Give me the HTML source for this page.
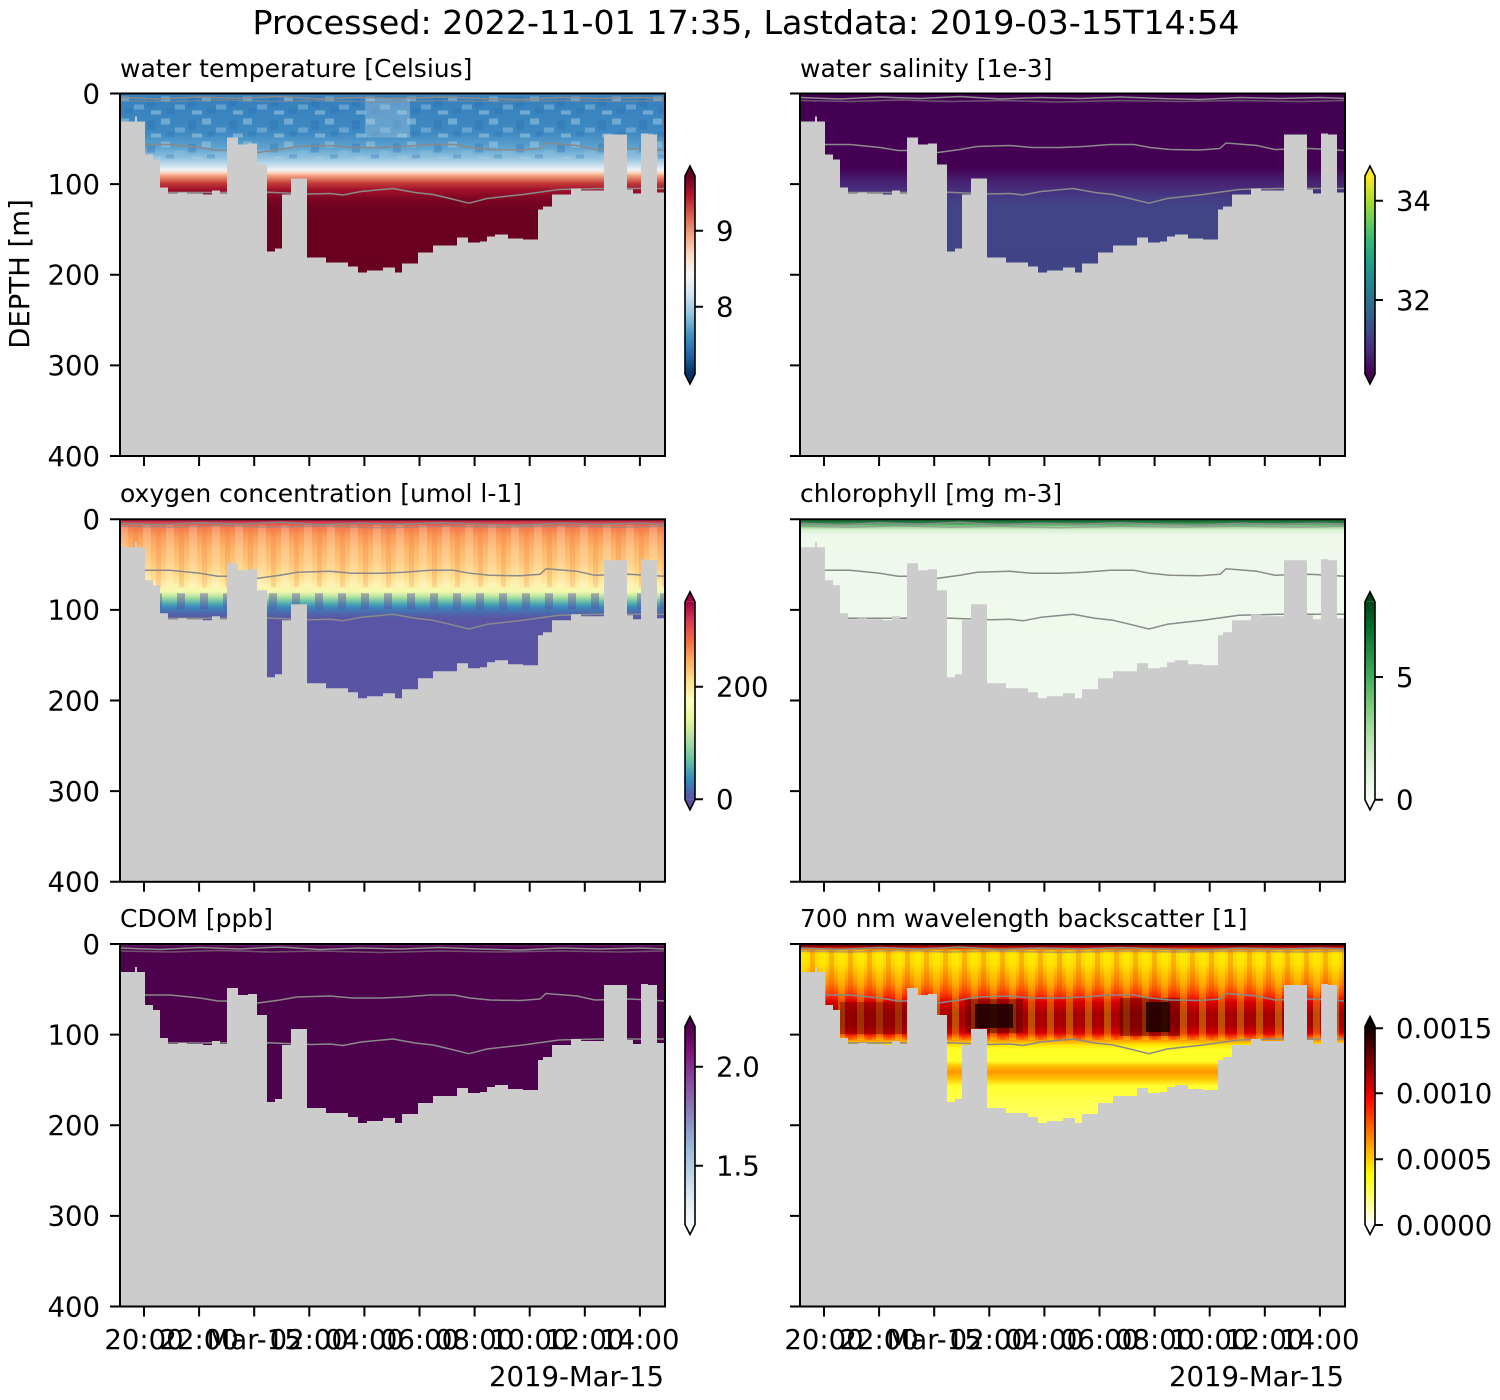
<!DOCTYPE html>
<html><head><meta charset="utf-8"><style>
html,body{margin:0;padding:0;background:#fff;}
svg{display:block;}
text{font-family:"DejaVu Sans","Liberation Sans",sans-serif;fill:#000;}
.tk{font-size:27.5px;}
.st{font-size:25px;}
</style></head><body>
<svg width="1500" height="1400" viewBox="0 0 1500 1400" xmlns="http://www.w3.org/2000/svg">
<defs>
<clipPath id="ax" clipPathUnits="userSpaceOnUse"><rect x="0" y="0" width="545" height="362.5"/></clipPath>
<linearGradient id="gT" gradientUnits="userSpaceOnUse" x1="0" y1="0" x2="0" y2="362.5">
<stop offset="0" stop-color="#4f95c7"/><stop offset=".008" stop-color="#3580bd"/><stop offset=".11" stop-color="#3f8ac2"/>
<stop offset=".152" stop-color="#62a5d0"/><stop offset=".179" stop-color="#94c4df"/><stop offset=".199" stop-color="#c9e0ee"/>
<stop offset=".21" stop-color="#eef2f5"/><stop offset=".218" stop-color="#fbd9c6"/><stop offset=".226" stop-color="#f4a582"/>
<stop offset=".237" stop-color="#dc6e58"/><stop offset=".248" stop-color="#c13a3a"/><stop offset=".265" stop-color="#a11229"/>
<stop offset=".29" stop-color="#7e0623"/><stop offset=".326" stop-color="#6a0120"/><stop offset="1" stop-color="#67001f"/>
</linearGradient>
<linearGradient id="gS" gradientUnits="userSpaceOnUse" x1="0" y1="0" x2="0" y2="362.5">
<stop offset="0" stop-color="#440154"/><stop offset=".207" stop-color="#440154"/><stop offset=".234" stop-color="#461a6b"/>
<stop offset=".262" stop-color="#472c7a"/><stop offset=".29" stop-color="#433d85"/><stop offset=".317" stop-color="#414487"/>
<stop offset="1" stop-color="#3f4788"/>
</linearGradient>
<linearGradient id="gO" gradientUnits="userSpaceOnUse" x1="0" y1="0" x2="0" y2="362.5">
<stop offset="0" stop-color="#a8174a"/><stop offset=".011" stop-color="#dc4a4a"/><stop offset=".022" stop-color="#f47a4a"/>
<stop offset=".044" stop-color="#fa9a58"/><stop offset=".077" stop-color="#fdb466"/><stop offset=".124" stop-color="#fec979"/>
<stop offset=".16" stop-color="#fee08f"/><stop offset=".182" stop-color="#fff0a6"/><stop offset=".199" stop-color="#f3f9b0"/>
<stop offset=".21" stop-color="#c8e9a0"/><stop offset=".221" stop-color="#88d0a4"/><stop offset=".232" stop-color="#52acb0"/>
<stop offset=".243" stop-color="#3a87bb"/><stop offset=".257" stop-color="#4c6bae"/><stop offset=".273" stop-color="#5a55a4"/>
<stop offset="1" stop-color="#5b51a3"/>
</linearGradient>
<linearGradient id="gC" gradientUnits="userSpaceOnUse" x1="0" y1="0" x2="0" y2="362.5">
<stop offset="0" stop-color="#2a8a48"/><stop offset=".007" stop-color="#1d6f38"/><stop offset=".014" stop-color="#4daf62"/>
<stop offset=".022" stop-color="#a8dca2"/><stop offset=".03" stop-color="#dcf0d6"/><stop offset=".044" stop-color="#eef8eb"/>
<stop offset="1" stop-color="#f3fbf1"/>
</linearGradient>
<linearGradient id="gD" gradientUnits="userSpaceOnUse" x1="0" y1="0" x2="0" y2="362.5">
<stop offset="0" stop-color="#6b2a70"/><stop offset=".01" stop-color="#4d004b"/><stop offset="1" stop-color="#4d004b"/>
</linearGradient>
<linearGradient id="gB" gradientUnits="userSpaceOnUse" x1="0" y1="0" x2="0" y2="362.5">
<stop offset="0" stop-color="#3a0000"/><stop offset=".008" stop-color="#b00000"/><stop offset=".017" stop-color="#ffa000"/>
<stop offset=".028" stop-color="#ffe000"/><stop offset=".055" stop-color="#ffd800"/><stop offset=".083" stop-color="#ffb000"/>
<stop offset=".11" stop-color="#ff8800"/><stop offset=".138" stop-color="#ff4000"/><stop offset=".16" stop-color="#d80000"/>
<stop offset=".193" stop-color="#a00000"/><stop offset=".226" stop-color="#a80000"/><stop offset=".246" stop-color="#d80000"/>
<stop offset=".257" stop-color="#ff5000"/><stop offset=".268" stop-color="#ffa800"/><stop offset=".279" stop-color="#ffe800"/>
<stop offset=".292" stop-color="#ffff28"/><stop offset=".323" stop-color="#ffff28"/><stop offset=".337" stop-color="#ffc000"/>
<stop offset=".353" stop-color="#ff9800"/><stop offset=".37" stop-color="#ffc000"/><stop offset=".392" stop-color="#ffff30"/>
<stop offset=".441" stop-color="#ffff50"/><stop offset=".524" stop-color="#ffff70"/><stop offset="1" stop-color="#ffff80"/>
</linearGradient>
<linearGradient id="cT" x1="0" y1="0" x2="0" y2="1">
<stop offset="0" stop-color="#67001f"/><stop offset=".1" stop-color="#b2182b"/><stop offset=".2" stop-color="#d6604d"/>
<stop offset=".3" stop-color="#f4a582"/><stop offset=".4" stop-color="#fddbc7"/><stop offset=".5" stop-color="#f7f7f7"/>
<stop offset=".6" stop-color="#d1e5f0"/><stop offset=".7" stop-color="#92c5de"/><stop offset=".8" stop-color="#4393c3"/>
<stop offset=".9" stop-color="#2166ac"/><stop offset="1" stop-color="#053061"/>
</linearGradient>
<linearGradient id="cS" x1="0" y1="0" x2="0" y2="1">
<stop offset="0" stop-color="#fde725"/><stop offset=".11" stop-color="#b5de2b"/><stop offset=".22" stop-color="#6ece58"/>
<stop offset=".33" stop-color="#35b779"/><stop offset=".44" stop-color="#1f9e89"/><stop offset=".56" stop-color="#26828e"/>
<stop offset=".67" stop-color="#31688e"/><stop offset=".78" stop-color="#3e4989"/><stop offset=".89" stop-color="#482878"/>
<stop offset="1" stop-color="#440154"/>
</linearGradient>
<linearGradient id="cO" x1="0" y1="0" x2="0" y2="1">
<stop offset="0" stop-color="#9e0142"/><stop offset=".1" stop-color="#d53e4f"/><stop offset=".2" stop-color="#f46d43"/>
<stop offset=".3" stop-color="#fdae61"/><stop offset=".4" stop-color="#fee08b"/><stop offset=".5" stop-color="#ffffbf"/>
<stop offset=".6" stop-color="#e6f598"/><stop offset=".7" stop-color="#abdda4"/><stop offset=".8" stop-color="#66c2a5"/>
<stop offset=".9" stop-color="#3288bd"/><stop offset="1" stop-color="#5e4fa2"/>
</linearGradient>
<linearGradient id="cC" x1="0" y1="0" x2="0" y2="1">
<stop offset="0" stop-color="#00441b"/><stop offset=".125" stop-color="#006d2c"/><stop offset=".25" stop-color="#238b45"/>
<stop offset=".375" stop-color="#41ab5d"/><stop offset=".5" stop-color="#74c476"/><stop offset=".625" stop-color="#a1d99b"/>
<stop offset=".75" stop-color="#c7e9c0"/><stop offset=".875" stop-color="#e5f5e0"/><stop offset="1" stop-color="#f7fcf5"/>
</linearGradient>
<linearGradient id="cD" x1="0" y1="0" x2="0" y2="1">
<stop offset="0" stop-color="#4d004b"/><stop offset=".125" stop-color="#810f7c"/><stop offset=".25" stop-color="#88419d"/>
<stop offset=".375" stop-color="#8c6bb1"/><stop offset=".5" stop-color="#8c96c6"/><stop offset=".625" stop-color="#9ebcda"/>
<stop offset=".75" stop-color="#bfd3e6"/><stop offset=".875" stop-color="#e0ecf4"/><stop offset="1" stop-color="#f7fcfd"/>
</linearGradient>
<linearGradient id="cB" x1="0" y1="0" x2="0" y2="1">
<stop offset="0" stop-color="#0b0000"/><stop offset=".2" stop-color="#8c0000"/><stop offset=".365" stop-color="#ff0000"/>
<stop offset=".55" stop-color="#ff8000"/><stop offset=".746" stop-color="#ffff00"/><stop offset=".87" stop-color="#ffff80"/>
<stop offset="1" stop-color="#ffffff"/>
</linearGradient>
<pattern id="tpat" patternUnits="userSpaceOnUse" width="41" height="23">
<rect x="0" y="2" width="9" height="6" fill="#9ac8e1" opacity=".55"/>
<rect x="14" y="11" width="10" height="5" fill="#8cc0de" opacity=".5"/>
<rect x="27" y="4" width="8" height="9" fill="#2166ac" opacity=".3"/>
<rect x="5" y="15" width="8" height="5" fill="#2166ac" opacity=".28"/>
<rect x="31" y="17" width="10" height="4" fill="#a9d0e6" opacity=".5"/>
</pattern>
<pattern id="ostripe" patternUnits="userSpaceOnUse" width="23" height="10">
<rect x="0" y="0" width="8" height="10" fill="#ffffff" opacity=".2"/>
<rect x="13" y="0" width="5" height="10" fill="#f46d43" opacity=".22"/>
</pattern>
<pattern id="obstripe" patternUnits="userSpaceOnUse" width="23" height="10">
<rect x="11" y="0" width="8" height="10" fill="#5e4fa2" opacity=".45"/>
</pattern>
<pattern id="bstripe" patternUnits="userSpaceOnUse" width="19" height="10">
<rect x="0" y="0" width="7" height="10" fill="#ffff00" opacity=".3"/>
<rect x="10" y="0" width="5" height="10" fill="#e00000" opacity=".18"/>
</pattern>
<path id="bathy" fill="#cccccc" d="M0,363 L0,28 H15 V23 H17 V28 H25 V61 H33 V66 H40 V94 H48 V100 H58 V99 H67 V100 H83 V101 H92 V97 H100 V100 H107 V44 H118 V51 H128 V50 H137 V71 H147 V158 H155 V155 H162 V101 H171 V85 H187 V164 H206 V169 H228 V173 H238 V179 H247 V177 H263 V174 H275 V179 H282 V170 H298 V159 H313 V152 H337 V144 H348 V149 H360 V148 H367 V143 H375 V141 H388 V145 H403 V146 H418 V116 H423 V113 H432 V101 H451 V95 H461 V97 H484 V41 H507 V96 H513 V100 H521 V40 H528 V41 H537 V99 H545 V363 Z"/>
<g id="cont" fill="none" stroke="#8a8a8a" stroke-width="1.5" stroke-linejoin="round">
<path d="M0,4 L40,5.5 L80,3.5 L120,5 L160,3 L200,5.5 L240,4 L280,5 L320,3.5 L360,5 L400,6 L440,4 L480,5 L520,4 L545,5"/>
<path d="M0,7 L50,8 L100,6.5 L150,8 L200,7 L260,8.5 L320,7 L380,8 L440,7 L500,8 L545,7" stroke-opacity=".6"/>
<path d="M20,51 L50,51 L80,54 L98,57 L120,57 L138,59 L160,56 L177,53 L210,52 L232,54 L260,54 L284,53 L310,51 L334,51 L350,54 L370,56 L400,56.5 L420,55 L426,49.5 L457,52 L475,56 L510,55 L545,57"/>
<path d="M0,99 L80,99 L148,98.8 L191,100.5 L210,100 L223,101.5 L241,98 L273,95 L295,99 L313,101 L330,105 L349,109.7 L367,105 L403,101 L439,96 L478,95 L545,95"/>
</g>
<path id="yt" stroke="#000" stroke-width="2" d="M-10 0H0M-10 90.625H0M-10 181.25H0M-10 271.875H0M-10 362.5H0"/>
<path id="xt" stroke="#000" stroke-width="2" d="M24 362.5v10M79.1 362.5v10M134.2 362.5v10M189.3 362.5v10M244.4 362.5v10M299.5 362.5v10M354.6 362.5v10M409.7 362.5v10M464.8 362.5v10M519.9 362.5v10"/>
<rect id="frame" x="0" y="0" width="545" height="362.5" fill="none" stroke="#000" stroke-width="2"/>
</defs>

<text x="746" y="34" text-anchor="middle" style="font-size:33.3px">Processed: 2022-11-01 17:35, Lastdata: 2019-03-15T14:54</text>

<text class="st" x="120" y="77">water temperature [Celsius]</text>
<text class="st" x="800" y="77">water salinity [1e-3]</text>
<text class="st" x="120" y="502">oxygen concentration [umol l-1]</text>
<text class="st" x="800" y="502">chlorophyll [mg m-3]</text>
<text class="st" x="120" y="927">CDOM [ppb]</text>
<text class="st" x="800" y="927">700 nm wavelength backscatter [1]</text>

<text class="tk" transform="translate(29,274) rotate(-90)" text-anchor="middle">DEPTH [m]</text>

<!-- temperature -->
<g transform="translate(120,93.5)">
<g clip-path="url(#ax)">
<rect width="545" height="362.5" fill="url(#gT)"/>
<rect x="0" y="3" width="545" height="62" fill="url(#tpat)"/>
<rect x="245" y="4" width="45" height="40" fill="#b6d5e8" opacity=".35"/>
<use href="#cont"/>
<use href="#bathy"/>
</g>
<use href="#frame"/><use href="#yt"/><use href="#xt"/>
<text class="tk" x="-20" y="9.8" text-anchor="end">0</text>
<text class="tk" x="-20" y="100.4" text-anchor="end">100</text>
<text class="tk" x="-20" y="191" text-anchor="end">200</text>
<text class="tk" x="-20" y="281.7" text-anchor="end">300</text>
<text class="tk" x="-20" y="372.3" text-anchor="end">400</text>
</g>

<!-- salinity -->
<g transform="translate(800,93.5)">
<g clip-path="url(#ax)">
<rect width="545" height="362.5" fill="url(#gS)"/>
<use href="#cont"/>
<use href="#bathy"/>
</g>
<use href="#frame"/><use href="#yt"/><use href="#xt"/>
</g>

<!-- oxygen -->
<g transform="translate(120,519.3)">
<g clip-path="url(#ax)">
<rect width="545" height="362.5" fill="url(#gO)"/>
<rect x="0" y="6" width="545" height="62" fill="url(#ostripe)"/>
<rect x="0" y="74" width="545" height="16" fill="url(#obstripe)"/>
<use href="#cont"/>
<use href="#bathy"/>
</g>
<use href="#frame"/><use href="#yt"/><use href="#xt"/>
<text class="tk" x="-20" y="9.8" text-anchor="end">0</text>
<text class="tk" x="-20" y="100.4" text-anchor="end">100</text>
<text class="tk" x="-20" y="191" text-anchor="end">200</text>
<text class="tk" x="-20" y="281.7" text-anchor="end">300</text>
<text class="tk" x="-20" y="372.3" text-anchor="end">400</text>
</g>

<!-- chlorophyll -->
<g transform="translate(800,519.3)">
<g clip-path="url(#ax)">
<rect width="545" height="362.5" fill="url(#gC)"/>
<use href="#cont"/>
<use href="#bathy"/>
</g>
<use href="#frame"/><use href="#yt"/><use href="#xt"/>
</g>

<!-- CDOM -->
<g transform="translate(120,944)">
<g clip-path="url(#ax)">
<rect width="545" height="362.5" fill="url(#gD)"/>
<use href="#cont"/>
<use href="#bathy"/>
</g>
<use href="#frame"/><use href="#yt"/><use href="#xt"/>
<text class="tk" x="-20" y="9.8" text-anchor="end">0</text>
<text class="tk" x="-20" y="100.4" text-anchor="end">100</text>
<text class="tk" x="-20" y="191" text-anchor="end">200</text>
<text class="tk" x="-20" y="281.7" text-anchor="end">300</text>
<text class="tk" x="-20" y="372.3" text-anchor="end">400</text>
</g>

<!-- backscatter -->
<g transform="translate(800,944)">
<g clip-path="url(#ax)">
<rect width="545" height="362.5" fill="url(#gB)"/>
<rect x="0" y="6" width="545" height="90" fill="url(#bstripe)"/>
<rect x="40" y="58" width="95" height="32" fill="#700000" opacity=".4"/>
<rect x="165" y="55" width="58" height="34" fill="#500000" opacity=".45"/>
<rect x="175" y="60" width="38" height="24" fill="#150000" opacity=".8"/>
<rect x="320" y="54" width="60" height="38" fill="#500000" opacity=".45"/>
<rect x="346" y="58" width="24" height="30" fill="#150000" opacity=".8"/>
<use href="#cont"/>
<use href="#bathy"/>
</g>
<use href="#frame"/><use href="#yt"/><use href="#xt"/>
</g>

<text class="tk" x="144" y="1349" text-anchor="middle">20:00</text>
<text class="tk" x="199.1" y="1349" text-anchor="middle">22:00</text>
<text class="tk" x="254.2" y="1349" text-anchor="middle">Mar-15</text>
<text class="tk" x="309.3" y="1349" text-anchor="middle">02:00</text>
<text class="tk" x="364.4" y="1349" text-anchor="middle">04:00</text>
<text class="tk" x="419.5" y="1349" text-anchor="middle">06:00</text>
<text class="tk" x="474.6" y="1349" text-anchor="middle">08:00</text>
<text class="tk" x="529.7" y="1349" text-anchor="middle">10:00</text>
<text class="tk" x="584.8" y="1349" text-anchor="middle">12:00</text>
<text class="tk" x="639.9" y="1349" text-anchor="middle">14:00</text>
<text class="tk" x="824" y="1349" text-anchor="middle">20:00</text>
<text class="tk" x="879.1" y="1349" text-anchor="middle">22:00</text>
<text class="tk" x="934.2" y="1349" text-anchor="middle">Mar-15</text>
<text class="tk" x="989.3" y="1349" text-anchor="middle">02:00</text>
<text class="tk" x="1044.4" y="1349" text-anchor="middle">04:00</text>
<text class="tk" x="1099.5" y="1349" text-anchor="middle">06:00</text>
<text class="tk" x="1154.6" y="1349" text-anchor="middle">08:00</text>
<text class="tk" x="1209.7" y="1349" text-anchor="middle">10:00</text>
<text class="tk" x="1264.8" y="1349" text-anchor="middle">12:00</text>
<text class="tk" x="1319.9" y="1349" text-anchor="middle">14:00</text>
<text class="tk" x="664" y="1386" text-anchor="end">2019-Mar-15</text>
<text class="tk" x="1344" y="1386" text-anchor="end">2019-Mar-15</text>

<!-- Colorbars -->
<g transform="translate(685,166)">
<polygon points="5,0 0,10 10,10" fill="#67001f"/>
<rect x="0" y="10" width="10" height="198" fill="url(#cT)"/>
<polygon points="0,208 10,208 5,218" fill="#053061"/>
<polygon points="5,0 0,10 0,208 5,218 10,208 10,10" fill="none" stroke="#000" stroke-width="1.6"/>
<path stroke="#000" stroke-width="2" d="M10 64.7h8M10 140.7h8"/>
<text class="tk" x="31" y="74.5">9</text>
<text class="tk" x="31" y="150.5">8</text>
</g>
<g transform="translate(1365,166)">
<polygon points="5,0 0,10 10,10" fill="#fde725"/>
<rect x="0" y="10" width="10" height="198" fill="url(#cS)"/>
<polygon points="0,208 10,208 5,218" fill="#440154"/>
<polygon points="5,0 0,10 0,208 5,218 10,208 10,10" fill="none" stroke="#000" stroke-width="1.6"/>
<path stroke="#000" stroke-width="2" d="M10 34.7h8M10 134h8"/>
<text class="tk" x="31" y="44.5">34</text>
<text class="tk" x="31" y="143.8">32</text>
</g>
<g transform="translate(685,591.8)">
<polygon points="5,0 0,10 10,10" fill="#9e0142"/>
<rect x="0" y="10" width="10" height="198" fill="url(#cO)"/>
<polygon points="0,208 10,208 5,218" fill="#5e4fa2"/>
<polygon points="5,0 0,10 0,208 5,218 10,208 10,10" fill="none" stroke="#000" stroke-width="1.6"/>
<path stroke="#000" stroke-width="2" d="M10 94.9h8M10 207.5h8"/>
<text class="tk" x="31" y="104.7">200</text>
<text class="tk" x="31" y="217.3">0</text>
</g>
<g transform="translate(1365,591.8)">
<polygon points="5,0 0,10 10,10" fill="#00441b"/>
<rect x="0" y="10" width="10" height="198" fill="url(#cC)"/>
<polygon points="0,208 10,208 5,218" fill="#f7fcf5"/>
<polygon points="5,0 0,10 0,208 5,218 10,208 10,10" fill="none" stroke="#000" stroke-width="1.6"/>
<path stroke="#000" stroke-width="2" d="M10 85.2h8M10 208h8"/>
<text class="tk" x="31" y="95">5</text>
<text class="tk" x="31" y="217.8">0</text>
</g>
<g transform="translate(685,1016.5)">
<polygon points="5,0 0,10 10,10" fill="#4d004b"/>
<rect x="0" y="10" width="10" height="198" fill="url(#cD)"/>
<polygon points="0,208 10,208 5,218" fill="#f7fcfd"/>
<polygon points="5,0 0,10 0,208 5,218 10,208 10,10" fill="none" stroke="#000" stroke-width="1.6"/>
<path stroke="#000" stroke-width="2" d="M10 50.2h8M10 149.2h8"/>
<text class="tk" x="31" y="60">2.0</text>
<text class="tk" x="31" y="159">1.5</text>
</g>
<g transform="translate(1365,1016.5)">
<polygon points="5,0 0,10 10,10" fill="#0b0000"/>
<rect x="0" y="10" width="10" height="198" fill="url(#cB)"/>
<polygon points="0,208 10,208 5,218" fill="#ffffff"/>
<polygon points="5,0 0,10 0,208 5,218 10,208 10,10" fill="none" stroke="#000" stroke-width="1.6"/>
<path stroke="#000" stroke-width="2" d="M10 11.8h8M10 76.8h8M10 142.8h8M10 208.5h8"/>
<text class="tk" x="31" y="21.6">0.0015</text>
<text class="tk" x="31" y="86.6">0.0010</text>
<text class="tk" x="31" y="152.6">0.0005</text>
<text class="tk" x="31" y="218.3">0.0000</text>
</g>
</svg>
</body></html>
